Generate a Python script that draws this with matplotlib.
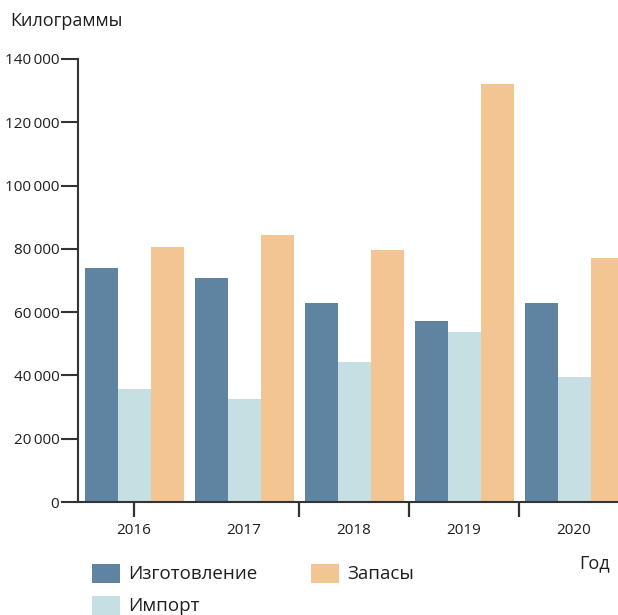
import matplotlib
matplotlib.use("Agg")
import matplotlib.pyplot as plt
import matplotlib.transforms as mtransforms
import numpy as np
from matplotlib.patches import Rectangle
from matplotlib.ticker import FuncFormatter, NullFormatter

years = ["2016", "2017", "2018", "2019", "2020"]
production = [73900, 70800, 62900, 57200, 62900]
imports = [35700, 32500, 44200, 53700, 39500]
stocks = [80600, 84400, 79600, 132100, 77100]
series_names = ["Изготовление", "Импорт", "Запасы"]
colors = ["#5E84A2", "#C5DFE3", "#F2C592"]
yticks = [0, 20000, 40000, 60000, 80000, 100000, 120000, 140000]

FAM = ["Open Sans", "DejaVu Sans"]
plt.rcParams["font.family"] = FAM
TXT = "#1e1e1e"
AX = "#333333"

W, H = 618, 615
fig = plt.figure(figsize=(W / 100, H / 100), dpi=100)
ax = fig.add_axes([78 / W, (H - 502) / H, (629 - 78) / W, (502 - 59) / H])

x = np.arange(len(years))
bw = 0.3
for i, (vals, c) in enumerate(zip([production, imports, stocks], colors)):
    ax.bar(x + (i - 1) * bw, vals, width=bw, color=c, linewidth=0, label=series_names[i])

ax.set_xlim(-0.51, 4.5)
ax.set_ylim(0, 140000)
ax.set_yticks(yticks)
ax.yaxis.set_major_formatter(FuncFormatter(lambda v, p: "0" if v == 0 else f"{int(v):,}".replace(",", "\u2009")))
ax.tick_params(axis="y", length=12, width=1.5, color=AX, labelsize=11, labelcolor=TXT, pad=1.5)

# tick marks on x axis
ax.set_xticks([0, 1.5, 2.5, 3.5])
ax.xaxis.set_major_formatter(NullFormatter())
ax.tick_params(axis="x", length=11, width=1.6, color=AX)

# year labels
trans = mtransforms.blended_transform_factory(ax.transData, ax.transAxes)
for xi, yr in zip(x, years):
    ax.text(xi, 0, yr, transform=trans + mtransforms.ScaledTranslation(0, -29 / 100, fig.dpi_scale_trans),
            ha="center", va="center", fontsize=11, color=TXT)

for s in ["top", "right"]:
    ax.spines[s].set_visible(False)
for s in ["left", "bottom"]:
    ax.spines[s].set_color(AX)
    ax.spines[s].set_linewidth(1.5)

fig.text(10 / W, 1 - 21 / H, "Килограммы", fontsize=13, color=TXT, ha="left", va="center")
fig.text(610 / W, 1 - 563 / H, "Год", fontsize=13, color=TXT, ha="right", va="center")

# legend
legend_pos = [(92, 564), (92, 596), (311, 564)]
for name, c, (lx, ly) in zip(series_names, colors, legend_pos):
    fig.patches.append(Rectangle((lx / W, 1 - (ly + 19) / H), 28 / W, 19 / H,
                                 transform=fig.transFigure, color=c, linewidth=0))
    fig.text((lx + 36) / W, 1 - (ly + 10) / H, name, fontsize=13.5, color=TXT, ha="left", va="center")

fig.savefig("out.png", dpi=100)
